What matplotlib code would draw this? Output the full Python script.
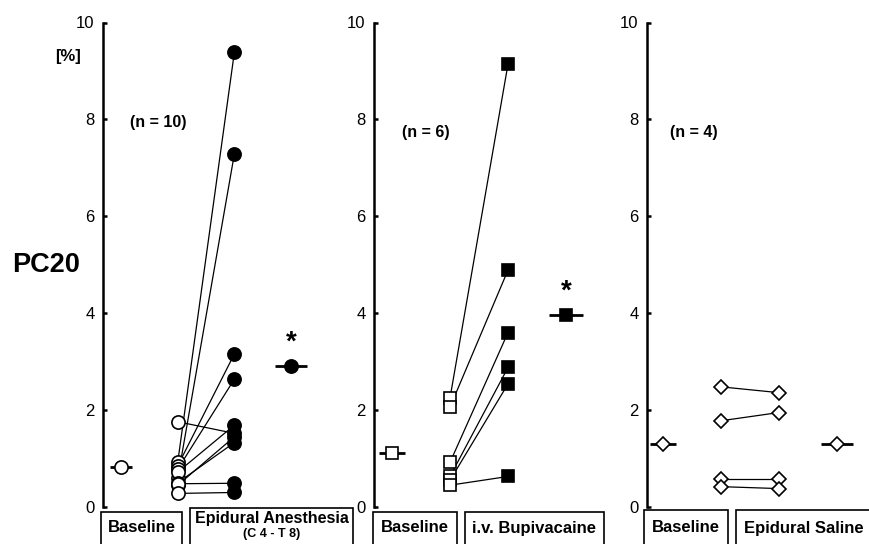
import matplotlib.pyplot as plt
from matplotlib.patches import Rectangle

plt.rcParams["font.family"] = ["Liberation Sans", "DejaVu Sans"]

# x positions: 0 = baseline mean, 1 = individual baseline, 2 = individual after, 3 = mean after
epi_pre = [0.92, 0.59, 0.85, 0.78, 1.76, 0.72, 0.50, 0.45, 0.48, 0.28]
epi_post = [9.39, 7.29, 3.16, 2.64, 1.52, 1.69, 1.33, 1.45, 0.49, 0.30]
epi_means = [0.83, 2.91]

bup_pre = [2.25, 2.06, 0.92, 0.63, 0.55, 0.45]
bup_post = [9.14, 4.89, 3.60, 2.88, 2.54, 0.63]
bup_means = [1.12, 3.96]

sal_pre = [2.48, 1.78, 0.57, 0.42]
sal_post = [2.36, 1.95, 0.57, 0.38]
sal_means = [1.31, 1.31]

n_labels = ["(n = 10)", "(n = 6)", "(n = 4)"]
yticks = [0, 2, 4, 6, 8, 10]

W, H = 870, 544
fig = plt.figure(figsize=(W / 100, H / 100), dpi=100)


def make_axes(spine_px, offset_px, spacing_px):
    width_px = 230
    ax = fig.add_axes([spine_px / W, 1 - 507 / H, width_px / W, 484.5 / H])
    ax.set_facecolor("none")
    ax.set_xlim(-offset_px / spacing_px, (width_px - offset_px) / spacing_px)
    ax.set_ylim(0, 10)
    for s in ["top", "right", "bottom"]:
        ax.spines[s].set_visible(False)
    ax.spines["left"].set_linewidth(1.8)
    ax.set_xticks([])
    ax.set_yticks(yticks)
    ax.tick_params(axis="y", direction="in", length=3, width=1.8, pad=6, labelsize=12)
    return ax


def draw_panel(ax, pre, post, means, marker, size, star, nlab, nxy, bars):
    for a, b in zip(pre, post):
        ax.plot([1, 2], [a, b], color="black", lw=0.9, zorder=2, clip_on=False)
    ax.plot([1] * len(pre), pre, ls="none", marker=marker, ms=size, mfc="white",
            mec="black", mew=1.2, zorder=3, clip_on=False)
    ax.plot([2] * len(post), post, ls="none", marker=marker, ms=size,
            mfc="white" if marker == "D" else "black",
            mec="black", mew=1.2, zorder=3, clip_on=False)
    # means with horizontal bar
    ax.plot([0], [means[0]], ls="none", marker="_", ms=bars[0], mew=2, color="black",
            zorder=2, clip_on=False)
    ax.plot([3], [means[1]], ls="none", marker="_", ms=bars[1], mew=2, color="black",
            zorder=2, clip_on=False)
    ax.plot([0], [means[0]], ls="none", marker=marker, ms=size, mfc="white",
            mec="black", mew=1.2, zorder=3, clip_on=False)
    ax.plot([3], [means[1]], ls="none", marker=marker, ms=size,
            mfc="white" if marker == "D" else "black", mec="black", mew=1.2,
            zorder=3, clip_on=False)
    if star:
        ax.annotate("*", (3, means[1]), xytext=(0, 17), textcoords="offset points",
                    ha="center", va="center", fontsize=20, fontweight="bold")
    ax.text(nxy[0], nxy[1], nlab, ha="center", va="center", fontsize=11.5,
            fontweight="bold")


ax1 = make_axes(103, 18, 56.7)
ax2 = make_axes(374, 18, 58)
ax3 = make_axes(647, 16, 58)

draw_panel(ax1, epi_pre, epi_post, epi_means, "o", 9.5, True, n_labels[0],
           (0.65, 7.93), (16, 23))
draw_panel(ax2, bup_pre, bup_post, bup_means, "s", 9.2, True, n_labels[1],
           (0.59, 7.72), (19, 24))
draw_panel(ax3, sal_pre, sal_post, sal_means, "D", 7.5, False, n_labels[2],
           (0.53, 7.72), (19, 23))

fig.text(68 / W, 1 - 57 / H, "[%]", ha="center", va="center", fontsize=12,
         fontweight="bold")
fig.text(46 / W, 1 - 265 / H, "PC20", ha="center", va="center", fontsize=19.5,
         fontweight="bold")

# category boxes below the axes
boxes = [
    (101, 182, 512, "Baseline", None),
    (190, 353, 508, "Epidural Anesthesia", "(C 4 - T 8)"),
    (373, 457, 512, "Baseline", None),
    (465, 604, 512, "i.v. Bupivacaine", None),
    (644, 728, 510, "Baseline", None),
    (736, 872, 510, "Epidural Saline", None),
]
for x0, x1, top, label, sub in boxes:
    fig.patches.append(Rectangle((x0 / W, -0.01), (x1 - x0) / W, 0.01 + (H - top) / H,
                                 transform=fig.transFigure, fill=False,
                                 edgecolor="black", lw=1.2))
    xc = (x0 + x1) / 2 / W
    if sub is None:
        fig.text(xc, 1 - 528 / H, label, ha="center", va="center", fontsize=12,
                 fontweight="bold")
    else:
        fig.text(xc, 1 - 519 / H, label, ha="center", va="center", fontsize=11.5,
                 fontweight="bold")
        fig.text(xc, 1 - 534 / H, sub, ha="center", va="center", fontsize=9,
                 fontweight="bold")

fig.savefig("out.png", dpi=100)
